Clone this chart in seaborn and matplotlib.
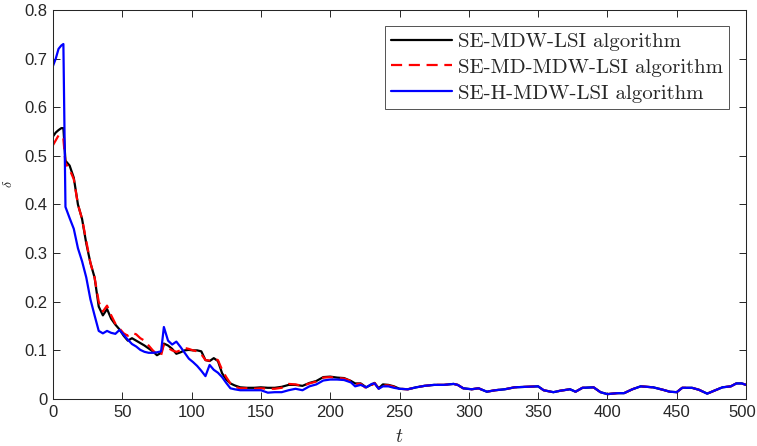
import numpy as np
import pandas as pd
import matplotlib
matplotlib.use("Agg")
import matplotlib.pyplot as plt
import matplotlib.transforms as mtransforms
import seaborn as sns

# Iteration index for the early (t < 250) part of the run
t_head = [0, 2, 4, 6, 7.5, 9, 12, 15, 18, 21,
          24, 27, 30, 33, 36, 39, 42, 45, 48, 51,
          54, 57, 60, 63, 66, 69, 72, 75, 78, 80,
          83, 86, 89, 92, 95, 98, 101, 104, 107, 110,
          113, 116, 119, 122, 125, 128, 131, 135, 140, 145,
          150, 155, 160, 165, 170, 175, 180, 185, 190, 195,
          200, 205, 210, 215, 218, 222, 226, 230, 232, 235,
          238, 242, 246]

delta_se_mdw = [0.540, 0.548, 0.553, 0.557, 0.557, 0.490, 0.480, 0.455, 0.400, 0.370,
                0.320, 0.280, 0.250, 0.190, 0.172, 0.185, 0.165, 0.153, 0.143, 0.130,
                0.120, 0.125, 0.120, 0.115, 0.110, 0.104, 0.098, 0.090, 0.095, 0.114,
                0.110, 0.103, 0.093, 0.096, 0.100, 0.101, 0.100, 0.100, 0.098, 0.080,
                0.078, 0.084, 0.078, 0.053, 0.040, 0.032, 0.028, 0.024, 0.023, 0.023,
                0.024, 0.023, 0.023, 0.025, 0.029, 0.029, 0.027, 0.033, 0.037, 0.045,
                0.046, 0.044, 0.043, 0.037, 0.032, 0.032, 0.024, 0.030, 0.033, 0.022,
                0.030, 0.029, 0.026]

delta_se_md_mdw = [0.522, 0.532, 0.542, 0.543, 0.535, 0.485, 0.472, 0.452, 0.400, 0.370,
                   0.325, 0.280, 0.250, 0.200, 0.180, 0.192, 0.172, 0.155, 0.145, 0.135,
                   0.130, 0.136, 0.133, 0.125, 0.120, 0.110, 0.100, 0.092, 0.090, 0.112,
                   0.105, 0.100, 0.097, 0.100, 0.105, 0.103, 0.100, 0.098, 0.092, 0.080,
                   0.079, 0.083, 0.080, 0.060, 0.045, 0.032, 0.025, 0.022, 0.022, 0.021,
                   0.022, 0.021, 0.021, 0.023, 0.031, 0.030, 0.027, 0.032, 0.036, 0.044,
                   0.045, 0.043, 0.042, 0.037, 0.031, 0.031, 0.022, 0.028, 0.033, 0.021,
                   0.028, 0.028, 0.025]

delta_se_h_mdw = [0.685, 0.700, 0.720, 0.727, 0.730, 0.395, 0.372, 0.350, 0.310, 0.283,
                  0.250, 0.205, 0.172, 0.140, 0.135, 0.140, 0.136, 0.134, 0.142, 0.132,
                  0.122, 0.113, 0.108, 0.101, 0.097, 0.095, 0.095, 0.096, 0.098, 0.148,
                  0.120, 0.112, 0.118, 0.107, 0.095, 0.083, 0.076, 0.068, 0.058, 0.047,
                  0.070, 0.060, 0.054, 0.045, 0.033, 0.022, 0.020, 0.018, 0.018, 0.018,
                  0.018, 0.013, 0.014, 0.014, 0.018, 0.021, 0.018, 0.026, 0.030, 0.038,
                  0.040, 0.040, 0.039, 0.034, 0.026, 0.029, 0.024, 0.031, 0.032, 0.021,
                  0.026, 0.026, 0.023]

# From t = 250 on, the three algorithms give the same error
t_tail = [250, 256, 262, 268, 275, 282, 289, 292, 296, 302,
          307, 313, 319, 326, 333, 341, 350, 354, 361, 366,
          373, 377, 382, 390, 395, 400, 407, 412, 418, 424,
          433, 440, 445, 450, 454, 461, 466, 472, 477, 483,
          489, 493, 497, 500]
delta_tail = [0.021, 0.020, 0.024, 0.027, 0.029, 0.029, 0.031, 0.029, 0.022, 0.020,
              0.022, 0.015, 0.018, 0.020, 0.024, 0.025, 0.026, 0.018, 0.014, 0.017,
              0.020, 0.015, 0.023, 0.024, 0.014, 0.010, 0.012, 0.012, 0.020, 0.026,
              0.024, 0.019, 0.015, 0.014, 0.023, 0.023, 0.019, 0.011, 0.017, 0.024,
              0.026, 0.032, 0.032, 0.029]

labels = ["SE-MDW-LSI algorithm", "SE-MD-MDW-LSI algorithm", "SE-H-MDW-LSI algorithm"]
colors = ["#000000", "#ff0000", "#0000ff"]
x_ticks = [0, 50, 100, 150, 200, 250, 300, 350, 400, 450, 500]
y_ticks = [0, 0.1, 0.2, 0.3, 0.4, 0.5, 0.6, 0.7, 0.8]

sns.set_style("ticks")
plt.rcParams["font.family"] = ["Liberation Sans", "DejaVu Sans"]
plt.rcParams["mathtext.fontset"] = "cm"

t_all = t_head + t_tail
frames = []
for lab, head in zip(labels, [delta_se_mdw, delta_se_md_mdw, delta_se_h_mdw]):
    frames.append(pd.DataFrame({"t": t_all, "delta": head + delta_tail, "algo": lab}))
df = pd.concat(frames, ignore_index=True)

fig = plt.figure(figsize=(7.57, 4.46), dpi=100)
ax = fig.add_axes([0.0700, 0.1054, 0.9155, 0.8722])

sns.lineplot(data=df, x="t", y="delta", hue="algo", style="algo",
             hue_order=labels, style_order=labels,
             palette=dict(zip(labels, colors)),
             dashes={labels[0]: "", labels[1]: (5, 3), labels[2]: ""},
             linewidth=1.6, sort=False, estimator=None, ax=ax)

ax.set_xlim(0, 500)
ax.set_ylim(0, 0.8)
ax.set_xticks(x_ticks)
ax.set_yticks(y_ticks)
ax.set_xticklabels([str(v) for v in x_ticks])
ax.set_yticklabels(["0"] + [f"{v:.1f}" for v in y_ticks[1:]])
ax.tick_params(direction="in", length=5, width=0.7, top=True, right=True,
               labelsize=12, colors="#262626", pad=4)
for sp in ax.spines.values():
    sp.set_visible(True)
    sp.set_linewidth(0.75)
    sp.set_color("#262626")

# keep the last x tick label inside the canvas
last = ax.get_xticklabels()[-1]
last.set_transform(last.get_transform() +
                   mtransforms.ScaledTranslation(-4 / 100, 0, fig.dpi_scale_trans))

ax.set_xlabel(r"$t$", fontsize=14, va="center")
ax.xaxis.set_label_coords(0.5, -0.098)
ax.set_ylabel(r"$\delta$", fontsize=10)
ax.yaxis.set_label_coords(-0.055, 0.553)

leg = ax.legend(loc="upper right", bbox_to_anchor=(0.9755, 0.9589),
                prop={"family": "cmr10", "size": 15},
                handlelength=2.9, handletextpad=0.3, labelspacing=0.35,
                borderpad=0.3, borderaxespad=0.0, frameon=True, fancybox=False)
leg.get_frame().set_edgecolor("#262626")
leg.get_frame().set_linewidth(0.7)
for line in leg.get_lines():
    line.set_linewidth(1.6)

fig.savefig("out.png", dpi=100)
